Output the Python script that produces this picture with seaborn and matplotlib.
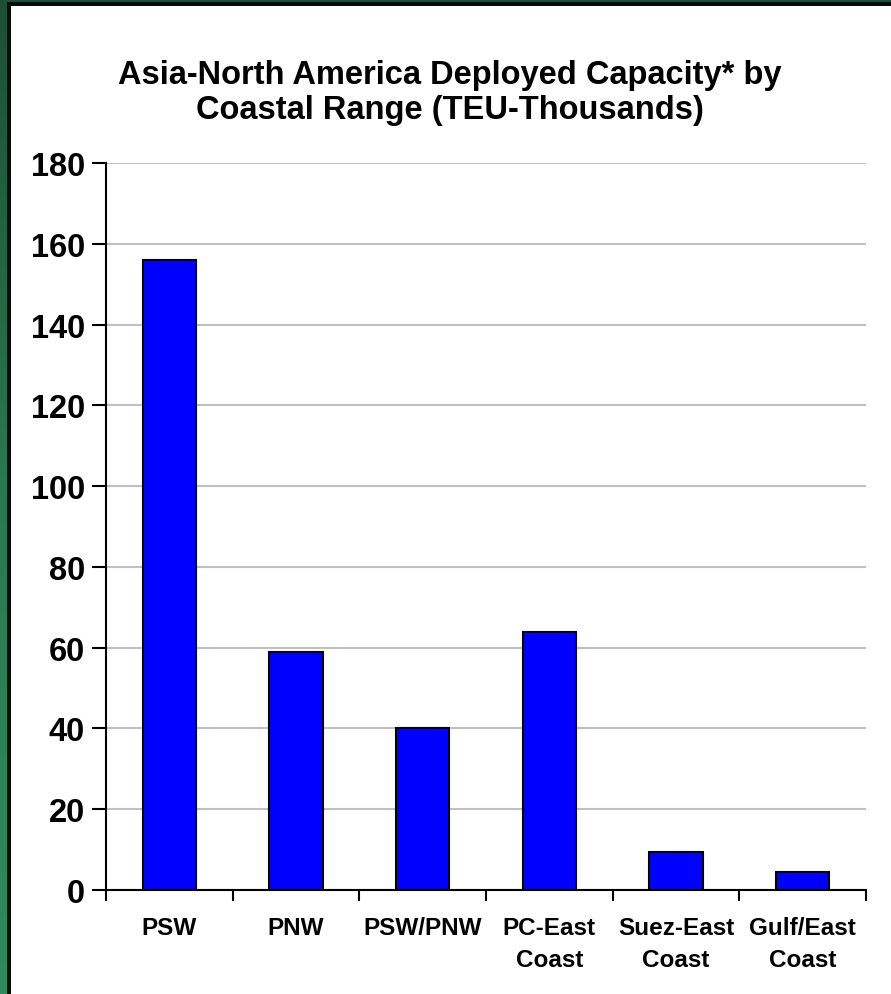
import numpy as np
import pandas as pd
import matplotlib
matplotlib.use("Agg")
import matplotlib.pyplot as plt
import seaborn as sns
from matplotlib.patches import Rectangle
from matplotlib.colors import LinearSegmentedColormap

# Deployed capacity by coastal range, TEU thousands
ranges = ["PSW", "PNW", "PSW/PNW", "PC-East\nCoast", "Suez-East\nCoast", "Gulf/East\nCoast"]
capacity = [156, 59, 40, 64, 9.3, 4.4]
y_ticks = [0, 20, 40, 60, 80, 100, 120, 140, 160, 180]

df = pd.DataFrame({"range": ranges, "capacity": capacity})

sns.set_theme(style="white")
plt.rcParams["font.family"] = ["Liberation Sans", "DejaVu Sans"]
plt.rcParams["font.weight"] = "bold"
plt.rcParams["text.color"] = "black"
plt.rcParams["xtick.color"] = "black"
plt.rcParams["ytick.color"] = "black"

W, H = 891, 995
fig = plt.figure(figsize=(W / 100, H / 100), dpi=100)
fig.patch.set_facecolor("white")

# Frame: green band with a black inner line along the left and top edges
grad = np.linspace(0, 1, 256).reshape(-1, 1)
green = LinearSegmentedColormap.from_list("g", ["#1d4f36", "#2a7a4f", "#2e8b5c"])
ax_l = fig.add_axes([0, 0, 7 / W, 1])
ax_l.imshow(grad, aspect="auto", cmap=green, extent=[0, 1, 0, 1], origin="upper")
ax_l.axis("off")
ax_t = fig.add_axes([0, 1 - 3 / H, 1, 3 / H])
ax_t.imshow(np.zeros((1, 2)), aspect="auto", cmap=green, vmin=0, vmax=1)
ax_t.axis("off")
fig.patches.append(Rectangle((7 / W, 0), 4 / W, 1 - 3 / H, transform=fig.transFigure,
                             facecolor="#0a0a0a", edgecolor="none", zorder=5))
fig.patches.append(Rectangle((7 / W, 1 - 7 / H), 1 - 7 / W, 4 / H, transform=fig.transFigure,
                             facecolor="#0a0a0a", edgecolor="none", zorder=5))

# Plot area
left, right, top, bottom = 106, 866, 164, 891
ax = fig.add_axes([left / W, 1 - bottom / H, (right - left) / W, (bottom - top) / H])
ax.set_facecolor("white")

sns.barplot(data=df, x="range", y="capacity", ax=ax, color="#0000ff",
            width=0.42, edgecolor="black", linewidth=1.5, saturation=1)

ax.set_ylim(0, 180)
ax.set_xlim(-0.5, len(ranges) - 0.5)
ax.set_yticks(y_ticks)
ax.set_yticklabels([str(t) for t in y_ticks], fontsize=23.5, fontweight="bold")
ax.yaxis.grid(True, color="#c0c0c0", linewidth=1.5)
ax.set_axisbelow(True)

# Category labels centred; tick marks at category boundaries
ax.set_xticks(np.arange(len(ranges)))
ax.set_xticklabels(ranges, fontsize=17.5, fontweight="bold", linespacing=1.5, va="top")
ax.tick_params(axis="x", length=0, pad=19, labelcolor="black")
ax.set_xticks(np.arange(len(ranges) + 1) - 0.5, minor=True)
ax.tick_params(axis="x", which="minor", direction="out", length=8, width=1.5, color="black", bottom=True)
ax.tick_params(axis="y", direction="out", length=10, width=1.5, color="black", left=True, pad=5,
               labelcolor="black")

ax.set_xlabel("")
ax.set_ylabel("")
for side in ["top", "right"]:
    ax.spines[side].set_visible(False)
ax.spines["left"].set_color("black")
ax.spines["left"].set_linewidth(1.5)
ax.spines["bottom"].set_color("black")
ax.spines["bottom"].set_linewidth(1.5)

fig.text(0.505, 1 - 93 / H, "Asia-North America Deployed Capacity* by\nCoastal Range (TEU-Thousands)",
         ha="center", va="center", fontsize=23.5, fontweight="bold", linespacing=1.15, color="black")

fig.savefig("out.png", dpi=100)
